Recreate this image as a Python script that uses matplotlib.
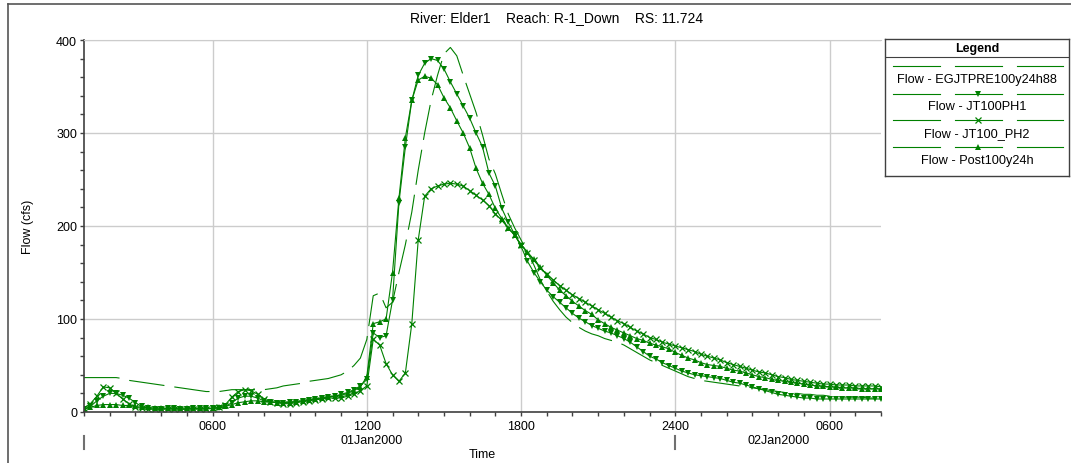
"""
Plots the flow hydrographs at River Elder1, Reach R-1_Down, RS 11.724
for four simulation runs and saves the chart as out.png.
"""
import numpy as np
import matplotlib
matplotlib.use('Agg')
from matplotlib import pyplot as plt
from matplotlib.lines import Line2D

# hours after 01Jan2000 0000, one value every 15 minutes (0100 01Jan .. 0800 02Jan)
HOURS = np.arange(1.0, 32.01, 0.25)

FLOW_EGJTPRE = [
    37, 37, 37, 37, 37, 37, 36, 34, 33, 32, 31, 30, 29, 28, 27, 26,
    25, 24, 23, 22, 22, 22, 23, 24, 24, 24, 24, 24, 24, 25, 26, 28,
    29, 30, 31, 33, 34, 35, 36, 38, 40, 44, 50, 58, 78, 125, 128, 112,
    118, 150, 180, 215, 260, 300, 335, 362, 385, 392, 383, 362, 342, 322, 298, 272,
    256, 234, 213, 198, 185, 172, 158, 142, 130, 119, 110, 102, 96, 91, 87, 84,
    82, 79, 77, 75, 72, 68, 64, 60, 56, 53, 50, 47, 44, 41, 38, 36,
    34, 33, 32, 31, 30, 29, 28, 27, 26, 25, 24, 23, 22, 21, 20, 20,
    19, 19, 18, 18, 17, 17, 16, 16, 16, 16, 15, 15, 15]

FLOW_JT100PH1 = [
    3, 6, 12, 17, 20, 20, 18, 15, 10, 6, 4, 3, 3, 4, 4, 3,
    3, 4, 4, 4, 4, 4, 6, 10, 15, 17, 17, 15, 12, 11, 10, 10,
    11, 11, 12, 13, 14, 15, 16, 17, 19, 21, 24, 28, 35, 85, 80, 82,
    120, 225, 285, 335, 362, 375, 380, 378, 369, 355, 342, 329, 316, 300, 285, 257,
    243, 219, 204, 191, 178, 162, 150, 140, 131, 124, 118, 112, 106, 101, 97, 93,
    90, 87, 85, 82, 79, 75, 70, 65, 60, 57, 53, 50, 47, 44, 42, 40,
    39, 38, 37, 36, 34, 32, 31, 29, 27, 25, 23, 21, 19, 18, 17, 16,
    15, 15, 14, 14, 14, 14, 14, 14, 14, 14, 14, 14, 14]

FLOW_JT100_PH2 = [
    4, 9, 17, 27, 26, 20, 14, 9, 5, 4, 3, 3, 3, 3, 3, 3,
    3, 3, 3, 3, 4, 5, 8, 16, 22, 24, 23, 19, 14, 11, 10, 9,
    9, 10, 11, 12, 13, 14, 15, 15, 15, 17, 19, 23, 28, 78, 72, 52,
    40, 33, 42, 95, 185, 232, 240, 243, 245, 246, 245, 243, 238, 233, 228, 222,
    213, 206, 198, 190, 180, 171, 163, 155, 148, 142, 136, 131, 126, 122, 118, 114,
    110, 106, 102, 98, 95, 91, 87, 84, 80, 78, 75, 73, 71, 69, 67, 65,
    62, 60, 58, 56, 53, 51, 49, 47, 45, 43, 42, 40, 38, 37, 35, 34,
    33, 32, 31, 30, 30, 29, 29, 29, 28, 28, 28, 28, 27]

FLOW_POST100Y24H = [
    3, 5, 7, 8, 8, 8, 7, 7, 6, 5, 5, 4, 4, 4, 4, 4,
    4, 4, 4, 4, 4, 5, 6, 8, 10, 11, 12, 12, 11, 11, 10, 10,
    10, 11, 12, 13, 14, 15, 16, 17, 18, 20, 23, 27, 38, 95, 97, 100,
    150, 230, 295, 335, 357, 361, 359, 352, 338, 327, 313, 300, 284, 262, 246, 234,
    219, 208, 198, 190, 180, 172, 164, 156, 147, 139, 131, 125, 119, 114, 109, 105,
    99, 95, 91, 88, 85, 82, 79, 77, 74, 72, 70, 68, 64, 61, 58, 56,
    53, 51, 50, 49, 47, 45, 44, 42, 40, 38, 37, 35, 34, 33, 32, 31,
    30, 29, 28, 28, 27, 27, 26, 26, 26, 25, 25, 25, 25]

SERIES_NAMES = ["Flow - EGJTPRE100y24h88", "Flow - JT100PH1",
                "Flow - JT100_PH2", "Flow - Post100y24h"]
SERIES_MARKERS = [None, "v", "x", "^"]

X_TICK_HOURS = [6, 12, 18, 24, 30]
X_TICK_LABELS = ["0600", "1200", "1800", "2400", "0600"]
DAY_LABEL_HOURS = [12.2, 28]
DAY_LABELS = ["01Jan2000", "02Jan2000"]
DAY_START_HOURS = [1, 24]

TITLE = "River: Elder1    Reach: R-1_Down    RS: 11.724"

GREEN = "#008000"
DARK = "#404040"
W, H = 1071, 464


def marker_style(marker):
    """Marker keywords shared by the plot and the legend samples."""
    if marker == "x":
        return dict(marker="x", markersize=4.5, markeredgewidth=0.9)
    return dict(marker=marker, markersize=5, markeredgewidth=0)


def draw_hydrographs(ax):
    """Draws the four flow series on the main axes."""
    all_flows = [FLOW_EGJTPRE, FLOW_JT100PH1, FLOW_JT100_PH2, FLOW_POST100Y24H]
    for flow, marker in zip(all_flows, SERIES_MARKERS):
        if marker is None:
            ax.plot(HOURS, flow, color=GREEN, lw=0.8, dashes=(32, 9))
        else:
            ax.plot(HOURS, flow, color=GREEN, lw=0.8, **marker_style(marker))


def style_axes(ax):
    """Axis limits, ticks, grid and labels in the HEC style."""
    ax.set_xlim(1, 32)
    ax.set_ylim(0, 400)
    ax.set_xticks(X_TICK_HOURS)
    ax.set_xticklabels(X_TICK_LABELS)
    ax.set_xticks(range(1, 33), minor=True)
    ax.set_yticks([0, 100, 200, 300, 400])
    ax.set_yticks(range(0, 401, 20), minor=True)
    ax.tick_params(which="both", direction="out", length=3, width=1,
                   color=DARK, labelsize=9, pad=2)
    ax.tick_params(axis="x", which="major", pad=3)
    ax.grid(True, which="major", color="#cccccc", lw=1)
    ax.set_axisbelow(True)
    for side in ["left", "bottom"]:
        ax.spines[side].set_color(DARK)
        ax.spines[side].set_linewidth(1.2)
    ax.spines["top"].set_color("#cccccc")
    ax.spines["right"].set_visible(False)
    ax.set_ylabel("Flow (cfs)", fontsize=9, labelpad=16)
    ax.text(0.5, -0.113, "Time", transform=ax.transAxes, ha="center",
            va="center", fontsize=9)

    trans = ax.get_xaxis_transform()
    for hour, label in zip(DAY_LABEL_HOURS, DAY_LABELS):
        ax.text(hour, -0.076, label, transform=trans, ha="center",
                va="center", fontsize=9)
    for hour in DAY_START_HOURS:
        ax.plot([hour, hour], [-0.064, -0.1], transform=trans, color="#707070",
                lw=1.5, clip_on=False)


def draw_legend(fig):
    """Boxed legend at the right, each sample line split in three dashes."""
    leg = fig.add_axes([885 / W, 1 - 177 / H, 184 / W, 137 / H])
    leg.set_xlim(885, 1069)
    leg.set_ylim(177, 40)
    leg.set_xticks([])
    leg.set_yticks([])
    for spine in leg.spines.values():
        spine.set_color(DARK)
        spine.set_linewidth(1)
    leg.text(977, 48.5, "Legend", ha="center", va="center", fontsize=9,
             fontweight="bold")
    leg.axhline(58, color=DARK, lw=0.8)
    line_ys = [67, 95, 121, 148]
    text_ys = [80, 107, 134, 161]
    for name, marker, ly, ty in zip(SERIES_NAMES, SERIES_MARKERS, line_ys, text_ys):
        for x0, x1 in [(893, 940), (955, 1002), (1017, 1063)]:
            leg.plot([x0, x1], [ly, ly], color=GREEN, lw=0.8)
        if marker is not None:
            leg.plot([978], [ly], color=GREEN, **marker_style(marker))
        leg.text(977, ty, name, ha="center", va="center", fontsize=9.2)


def execute():
    """Builds the whole figure and saves it."""
    plt.rcParams["font.family"] = ["Liberation Sans", "DejaVu Sans"]
    fig = plt.figure(figsize=(W / 100, H / 100), dpi=100)
    ax = fig.add_axes([84 / W, 1 - 413 / H, 797 / W, 372 / H])
    draw_hydrographs(ax)
    style_axes(ax)
    fig.text(0.52, 1 - 18 / H, TITLE, ha="center", va="center", fontsize=10)
    draw_legend(fig)
    # outer frame of the plot window (left and top edges)
    fig.add_artist(Line2D([8 / W, 8 / W], [0, 1 - 5 / H], color="#555555", lw=1.2))
    fig.add_artist(Line2D([8 / W, 1], [1 - 5 / H, 1 - 5 / H], color="#555555", lw=1.2))
    fig.savefig("out.png", dpi=100)


if __name__ == "__main__":

    execute()
